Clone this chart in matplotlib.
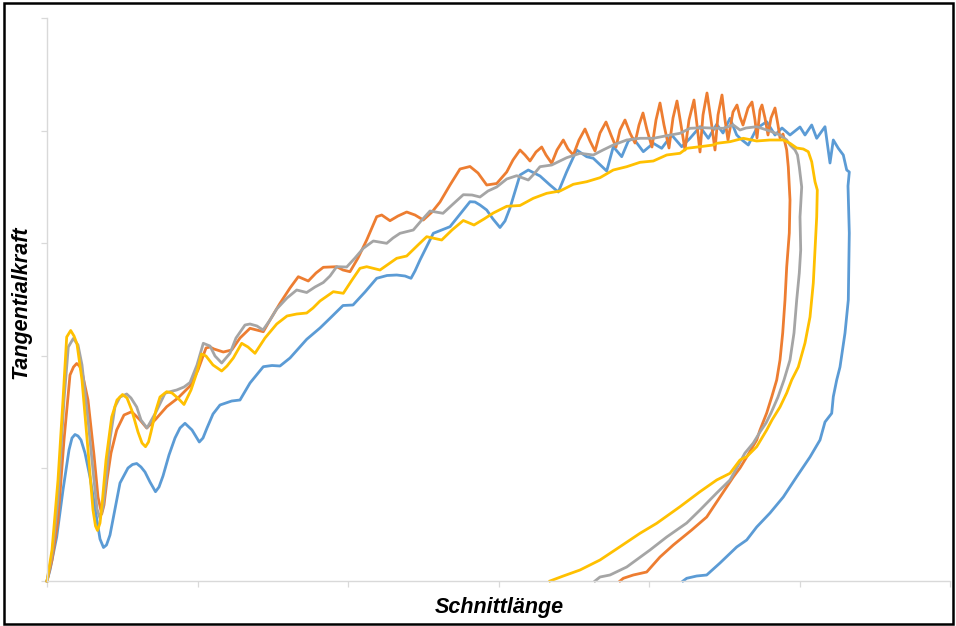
import numpy as np
import matplotlib
matplotlib.use("Agg")
import matplotlib.pyplot as plt
from matplotlib.patches import Rectangle

# Messkurven (Schnittlaenge, Tangentialkraft)
blau = np.array([
    (0, 0), (3, 11), (9.7, 44), (16, 91), (22, 131), (25, 143), (28, 146.5), (31, 145), (34, 141),
    (38, 128), (43, 104), (50, 61), (53, 42), (56.5, 33.5), (59.5, 36), (63, 46), (68, 72), (73, 98),
    (81, 113), (85.5, 116.5), (89.7, 117.5), (94, 114), (98, 109), (103, 99), (108.5, 89.3), (112, 94),
    (116, 105), (122, 126), (128, 143), (133, 153), (138, 157.7), (145, 151), (152.3, 139), (156, 143),
    (160, 153), (166, 167), (173, 176), (184.7, 180), (193, 181),
    (203, 198), (216.3, 214.3), (225, 215.5), (233, 215), (243, 223), (259.7, 241.7), (273, 253),
    (283, 262.7), (296, 275.5), (306, 276), (318, 289), (329.7, 302.7), (340, 305.5), (349.7, 306),
    (358, 305), (364, 302.7), (368, 310), (373, 321),
    (386.3, 347.7), (403, 354.3), (423, 379.3), (428, 379), (433, 376), (439.7, 371), (446, 362),
    (453, 353.5), (458, 360), (463, 373),
    (473, 406), (481.3, 411), (493, 405), (503, 396), (511.3, 389), (519.7, 409.3), (529.7, 431),
    (539.7, 424.3), (546.3, 422.7), (559.7, 410), (566.3, 434.3), (574.7, 424.3), (581.3, 440),
    (586.3, 442.7), (596.3, 429.3), (606.3, 437.7), (614.7, 432.7), (624.7, 446), (634.7, 434.3),
    (643, 442.7), (653, 454.3), (661.3, 442.7), (669.7, 456.7), (676, 448), (683, 462.7), (689.7, 446),
    (695, 441), (701.3, 436), (709.7, 452.7), (719.7, 459.3), (728, 446), (735, 453), (743, 446),
    (753, 454), (758, 446), (764.7, 456), (769.7, 442.7), (778, 454.3), (783, 418), (786.3, 441),
    (791.3, 432.7), (796.3, 426), (799.7, 411), (802.3, 409), (801, 395), (802.3, 348), (801.3, 281),
    (798, 248), (793, 214), (789.7, 201), (786.3, 184.3), (784.7, 167.7), (778, 159), (773, 141),
    (763, 124), (749.7, 104.3), (736.3, 84), (723, 68), (709.7, 54), (699.7, 41), (689.7, 34),
    (673, 18), (659.7, 6), (649.7, 5), (639.7, 2.7), (636, 0),
])

orange = np.array([
    (0, 0), (5, 21), (11, 61), (17, 141), (23, 206), (26.5, 214), (29.7, 217.5), (32.5, 215),
    (35, 209), (41, 181), (47, 126), (51, 84), (54.7, 67), (57, 76), (60, 101), (64, 128), (69.7, 151),
    (77, 166), (84.7, 169.3), (93, 161), (99.7, 153), (108, 161),
    (119.7, 174.3), (131, 183), (143, 195), (151, 211), (159, 233), (163, 234), (167, 232),
    (176.3, 229), (184.7, 231), (193, 243), (203, 252.7), (216.3, 249.3), (223, 261), (233, 277.7),
    (243, 293), (251.3, 304.3), (261.3, 300), (269, 308), (276.3, 313.7), (289.7, 314.3), (296, 311),
    (303, 309.3), (311, 323), (319.7, 341), (329.7, 364.3), (334.7, 366), (343, 360.3), (351, 365),
    (359.7, 369), (368, 366), (376.3, 361), (385, 369), (393, 379), (403, 396), (413, 412),
    (423, 414.5), (431, 408), (439.7, 396), (449.7, 397.5), (459.7, 409), (466, 421), (473, 431),
    (478, 426), (483, 420),
    (489, 429), (494.7, 434), (499, 426), (504.7, 417.7), (510, 431), (516.3, 441), (521, 432),
    (526.3, 426), (532, 441), (538, 452), (543, 440), (548, 430), (553, 448), (559, 459), (564, 446),
    (569, 434), (573, 451), (578, 461), (583, 448), (588, 438), (592, 456), (596, 468), (600, 451),
    (605, 434), (609, 461), (613, 478), (617, 456), (622, 433), (626, 463), (630, 480), (634, 456),
    (638, 431), (642, 461), (647, 481), (650, 456), (653, 429), (656, 466), (660, 488), (664, 461),
    (668, 431), (671, 466), (675, 486), (678, 461), (681, 441), (686, 469), (690, 476), (693, 464),
    (696, 456), (701, 473), (705, 479), (708, 461), (710, 443), (713, 471), (715, 476), (718, 463),
    (721, 446), (724, 463), (728, 473), (731, 456), (733, 443), (736, 447), (739.7, 431),
    (741.3, 414), (743, 381), (742.3, 348), (739.7, 314), (738, 281), (735.7, 248), (733, 221),
    (729.7, 201), (724.7, 184), (719.7, 168), (713, 151), (709.7, 141), (699.7, 124), (693, 113),
    (686.3, 104), (673, 84), (659.7, 64), (644.7, 51), (626.3, 36), (613, 24), (599.7, 9),
    (586.3, 6), (576.3, 2.7), (573, 0),
])

grau = np.array([
    (0, 0), (5, 26), (11, 81), (17, 181), (21.3, 234), (26.3, 242.5), (31, 236), (35, 216), (41, 161),
    (47, 101), (50, 72), (53, 62.7), (56, 74), (59, 101), (63, 142), (68, 174.3), (73, 184),
    (79.7, 187), (84, 183), (89.7, 174),
    (94, 161), (100, 153), (109, 169), (118, 187.7), (123, 189.3), (129.7, 191), (137, 194),
    (143, 198.5), (150, 216), (156.3, 237.7), (163, 235), (168, 225), (174.7, 218), (183, 227.7),
    (189, 243), (198, 256), (203, 257), (210, 255), (216, 251), (223, 261), (229.7, 272), (240, 283),
    (249.7, 291), (259.7, 288.5), (268, 294), (276.3, 298.5), (283, 305), (289.7, 314.3), (299.7, 314),
    (308, 323), (316.3, 332.7), (326.3, 340), (339.7, 337.7), (346, 343), (353, 347.7), (366.3, 351),
    (374, 360), (383, 370), (396, 367.7), (405, 376), (416.3, 386.3), (425, 386), (433, 384),
    (441, 390), (449.7, 394), (459.7, 402), (469.7, 405.3), (481.3, 401), (487, 407), (493, 414.3),
    (504.7, 416), (519.7, 423.3), (533, 427.7), (546.3, 426), (556, 431), (566.3, 436), (579.7, 441),
    (593, 442.7), (606.3, 442.7), (619.7, 445.3), (633, 447.7), (643, 452.7), (656.3, 453.3),
    (669.7, 452.7), (676.3, 452.7), (686.3, 456), (693, 451), (699, 453), (709.7, 454.3), (723, 450),
    (733, 446), (739.7, 441), (743, 436), (748, 431), (750.5, 426), (752.3, 414), (754.7, 394),
    (753, 364), (753.7, 331), (752.3, 308), (749.7, 281), (747, 248), (743, 221), (737, 201),
    (731, 184), (724, 168), (719, 158), (713, 149), (706.3, 138), (698, 128), (683, 101),
    (669.7, 88), (653, 71), (639.7, 58), (619.7, 44), (603, 31), (579.7, 14), (563, 6), (553, 4),
    (548, 0),
])

gelb = np.array([
    (0, 0), (5, 31), (11, 101), (16, 181), (19.7, 244), (23.7, 250.5), (27, 245), (30, 237), (35, 201),
    (41, 131), (46, 71), (48.5, 55), (50.5, 50.5), (53, 58), (55, 76), (59, 121), (64.7, 164), (70, 181),
    (75.5, 186.5), (80, 183), (84.7, 171), (91, 149), (95, 138), (98.5, 134.3), (101.5, 139),
    (104, 149), (109, 171), (113, 184),
    (119.7, 189.3), (125, 188), (131.3, 182.5), (137, 176.5), (144, 191), (149.7, 208), (154.5, 227),
    (159, 225), (166, 216), (174.7, 210), (180, 215), (186.3, 223), (194.7, 237.7), (201, 234),
    (208, 227.7), (218, 243), (229.7, 257), (240, 265), (249.7, 267), (259.7, 268), (266, 273),
    (273, 280), (286.3, 289.3), (296.3, 287.7), (305, 301), (313, 312.7), (319.7, 314.3), (333, 311),
    (349.7, 322.7), (359.7, 325), (371, 336), (379.7, 344.3), (394.7, 341), (405, 351),
    (416.3, 360.5), (427, 356), (437, 362), (446.3, 368), (459.7, 374.7), (473, 375.5),
    (486.3, 382.7), (499.7, 387.7), (513, 390), (526.3, 396.7), (539.7, 399.3), (553, 403.3),
    (566.3, 411), (579.7, 414.3), (593, 418.7), (606.3, 420), (619.7, 426), (633, 427.7),
    (639.7, 432.7), (653, 434.3), (666.3, 436), (669.7, 437.7), (683, 439.3), (696.3, 442.7),
    (709.7, 440), (723, 441), (736.3, 441), (743, 437.7), (749.7, 433), (756.3, 432), (761.3, 429.3),
    (764.7, 419.3), (768, 399.3), (770.3, 391), (769.7, 364), (768, 331), (766.3, 298), (763, 264),
    (758, 238), (751.3, 214), (744.7, 201), (739.7, 188), (733, 174), (725, 161), (719.7, 151),
    (709.7, 134.3), (699.7, 124.3), (693, 121), (683, 107.7), (669.7, 101), (653, 89.3), (633, 74.3),
    (609.7, 57.7), (593, 47.7), (573, 34.3), (553, 21), (533, 11), (516.3, 5), (503, 0),
])

x_max = 903
y_max = 563

fig = plt.figure(figsize=(9.56, 6.26), dpi=100)
ax = fig.add_axes([47 / 956, 45 / 626, 903 / 956, 563 / 626])

for kurve, farbe in [(blau, "#5B9BD5"), (orange, "#ED7D31"), (grau, "#A5A5A5"), (gelb, "#FFC000")]:
    ax.plot(kurve[:, 0], kurve[:, 1], color=farbe, lw=2.0, solid_joinstyle="round", clip_on=False)

ax.set_xlim(0, x_max)
ax.set_ylim(0, y_max)
ax.set_xticks(np.linspace(0, x_max, 7))
ax.set_yticks(np.linspace(0, y_max, 6))
ax.set_xticklabels([])
ax.set_yticklabels([])
ax.tick_params(direction="out", length=4.5, width=0.9, color="#D9D9D9")
for s in ["top", "right"]:
    ax.spines[s].set_visible(False)
for s in ["left", "bottom"]:
    ax.spines[s].set_color("#D9D9D9")
    ax.spines[s].set_linewidth(1.0)

schrift = dict(family=["Liberation Sans", "DejaVu Sans"], weight="bold", style="italic", size=15.5)
fig.text(499 / 956, 1 - 607 / 626, "Schnittlänge", ha="center", va="center", **schrift)
fig.text(21 / 956, 1 - 302 / 626, "Tangentialkraft", ha="center", va="center", rotation=90, **schrift)

# Rahmen um die ganze Grafik
fig.patches.append(Rectangle((4 / 956, 2.5 / 626), 949 / 956, 620.5 / 626, transform=fig.transFigure,
                             fill=False, edgecolor="black", linewidth=1.8))

fig.savefig("out.png", dpi=100)
